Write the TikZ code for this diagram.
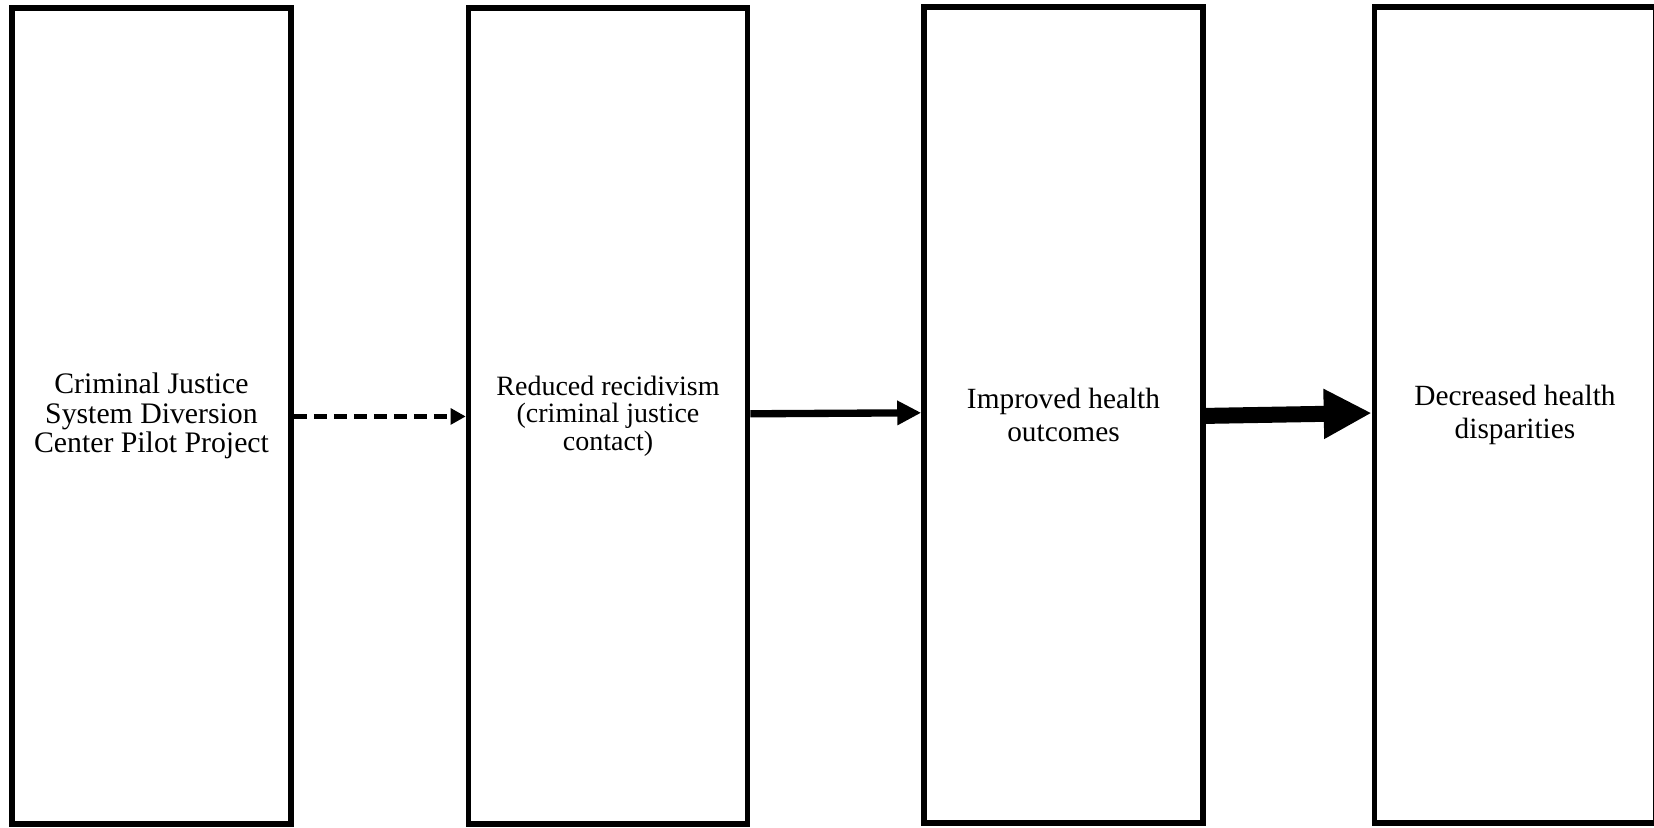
\documentclass[tikz,border=0pt]{standalone}
\usepackage{fontspec}
\setmainfont{Liberation Serif}
\usetikzlibrary{arrows.meta}
\begin{document}
\begin{tikzpicture}[x=0.45pt,y=-0.45pt,
  box/.style={draw, line width=2.5pt, minimum width=125.55pt, minimum height=367.2pt,
    align=center, inner sep=0pt, fill=white},
  dasharrow/.style={line width=2.25pt, dash pattern=on 6pt off 3pt,
    -{Triangle[length=6.75pt,width=7pt]}},
  midarrow/.style={line width=3.3pt, -{Triangle[length=10.8pt,width=10.4pt]}},
  bigarrow/.style={line width=7.2pt, -{Triangle[length=21.6pt,width=21pt]}}]
\useasboundingbox (0,0) rectangle (1654,827);
\node[box, font=\fontsize{13.4}{13.4}\selectfont] (b1) at (151.5,416)
  {Criminal Justice\\System Diversion\\Center Pilot Project};
\node[box, font=\fontsize{12.6}{12.3}\selectfont] (b2) at (608,416)
  {Reduced recidivism\\(criminal justice\\contact)};
\node[box, font=\fontsize{13.2}{14.5}\selectfont] (b3) at (1063.5,415)
  {Improved health\\outcomes};
\node[box, font=\fontsize{13.2}{14.5}\selectfont, minimum width=126.45pt] (b4) at (1515,415)
  {Decreased health\\disparities};
\draw[dasharrow] ([yshift=-0.2pt]b1.east) -- ([yshift=-0.2pt]b2.west);
\draw[midarrow] ([yshift=1pt]b2.east) -- ([yshift=1pt]b3.west);
\draw[bigarrow] ([yshift=-0.4pt]b3.east) -- ([yshift=0.9pt]b4.west);
\end{tikzpicture}
\end{document}
